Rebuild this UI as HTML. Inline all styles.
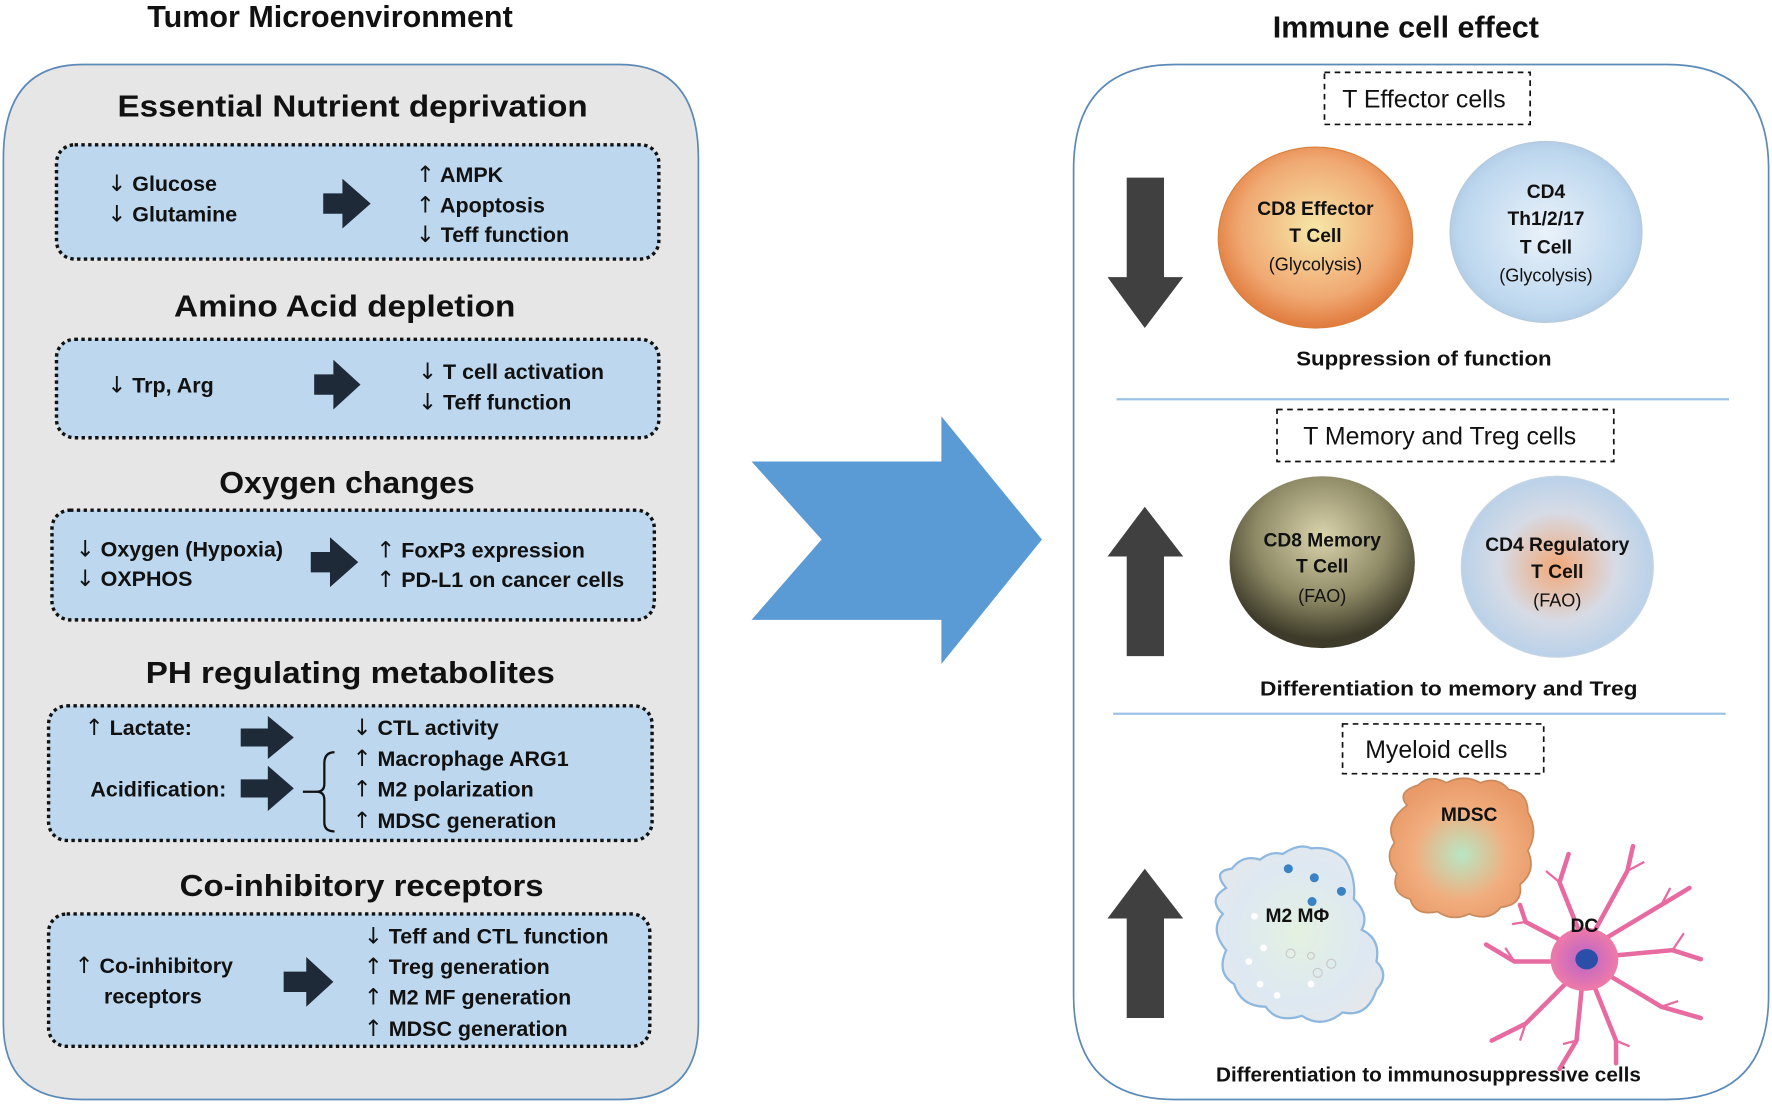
<!DOCTYPE html>
<html><head><meta charset="utf-8"><style>
html,body{margin:0;padding:0;background:#fff;}
svg{display:block;}
text{font-family:"Liberation Sans",sans-serif;fill:#111;}
.h{font-size:27px;font-weight:bold;text-anchor:middle;}
.t{font-size:19px;font-weight:bold;}
.a{font-family:"DejaVu Sans",sans-serif;font-weight:normal;font-size:20px;}
.c{font-size:17px;font-weight:bold;text-anchor:middle;}
.n{font-size:16px;text-anchor:middle;}
.d{font-size:22px;text-anchor:middle;}
.s{font-size:18px;font-weight:bold;text-anchor:middle;}
</style></head><body>
<svg width="1772" height="1104" viewBox="0 0 1568 976" preserveAspectRatio="none" xmlns="http://www.w3.org/2000/svg">
<defs>
<radialGradient id="g1" cx="50%" cy="45%" r="55%"><stop offset="0" stop-color="#f6e7a8"/><stop offset="0.7" stop-color="#f0a872"/><stop offset="1" stop-color="#e07a3c"/></radialGradient>
<radialGradient id="g2" cx="50%" cy="50%" r="55%"><stop offset="0" stop-color="#eaf2fa"/><stop offset="0.8" stop-color="#bdd7ee"/><stop offset="1" stop-color="#a9c6e0"/></radialGradient>
<radialGradient id="g3" cx="50%" cy="35%" r="60%"><stop offset="0" stop-color="#d9d4ac"/><stop offset="0.6" stop-color="#8e8a66"/><stop offset="1" stop-color="#3e3b2a"/></radialGradient>
<radialGradient id="g4" cx="50%" cy="50%" r="55%"><stop offset="0" stop-color="#f2a878"/><stop offset="0.55" stop-color="#d6dbe6"/><stop offset="1" stop-color="#b3cfe9"/></radialGradient>
<radialGradient id="g5" cx="50%" cy="55%" r="55%"><stop offset="0" stop-color="#b8e6c3"/><stop offset="0.6" stop-color="#f1ad7e"/><stop offset="1" stop-color="#e99a68"/></radialGradient>
<radialGradient id="g6" cx="50%" cy="50%" r="55%"><stop offset="0" stop-color="#e4f1e0"/><stop offset="0.7" stop-color="#dde8f2"/><stop offset="1" stop-color="#e4e8ec"/></radialGradient>
<radialGradient id="g7" cx="50%" cy="50%" r="50%"><stop offset="0" stop-color="#b864c8"/><stop offset="1" stop-color="#ef7aa8"/></radialGradient>
</defs>

<text class="h" x="292" y="24">Tumor Microenvironment</text>
<text class="h" x="1244" y="33">Immune cell effect</text>

<path d="M73,57 H548 Q618,57 618,140 V905 Q618,972 548,972 H73 Q3,972 3,905 V140 Q3,57 73,57 Z" fill="#e6e6e6" stroke="#5b8ab8" stroke-width="1.5"/>

<g stroke="#111" stroke-width="3" stroke-dasharray="3 3" fill="#bdd7ee">
<rect x="50" y="128" width="533" height="101" rx="16"/>
<rect x="50" y="300" width="533" height="87" rx="16"/>
<rect x="46" y="451" width="533" height="97" rx="16"/>
<rect x="43" y="624" width="534" height="119" rx="16"/>
<rect x="43" y="808" width="532" height="117" rx="16"/>
</g>

<text class="h" x="312" y="103" textLength="416" lengthAdjust="spacingAndGlyphs">Essential Nutrient deprivation</text>
<text class="h" x="305" y="280" textLength="302" lengthAdjust="spacingAndGlyphs">Amino Acid depletion</text>
<text class="h" x="307" y="436" textLength="226" lengthAdjust="spacingAndGlyphs">Oxygen changes</text>
<text class="h" x="310" y="604" textLength="362" lengthAdjust="spacingAndGlyphs">PH regulating metabolites</text>
<text class="h" x="320" y="792" textLength="322" lengthAdjust="spacingAndGlyphs">Co-inhibitory receptors</text>

<g fill="#1f2a38">
<path d="M286,171 h17 v-13 l25,22 l-25,22 v-13 h-17z"/>
<path d="M278,331 h17 v-13 l24,22 l-24,22 v-13 h-17z"/>
<path d="M275,488 h17 v-13 l25,22 l-25,22 v-13 h-17z"/>
<path d="M213,644 h24 v-11 l23,19 l-23,19 v-11 h-24z"/>
<path d="M213,689 h24 v-12 l23,20 l-23,20 v-12 h-24z"/>
<path d="M251,859 h20 v-13 l24,22 l-24,22 v-13 h-20z"/>
</g>
<path d="M296,665 Q287,665 287,675 V693 Q287,700 280,700 Q287,700 287,707 V727 Q287,735 296,735 M268,700 H280" fill="none" stroke="#111" stroke-width="2"/>

<text class="t" x="95" y="169"><tspan class="a">↓</tspan> Glucose</text>
<text class="t" x="95" y="196"><tspan class="a">↓</tspan> Glutamine</text>
<text class="t" x="368" y="161"><tspan class="a">↑</tspan> AMPK</text>
<text class="t" x="368" y="188"><tspan class="a">↑</tspan> Apoptosis</text>
<text class="t" x="368" y="214"><tspan class="a">↓</tspan> Teff function</text>
<text class="t" x="95" y="347"><tspan class="a">↓</tspan> Trp, Arg</text>
<text class="t" x="370" y="335"><tspan class="a">↓</tspan> T cell activation</text>
<text class="t" x="370" y="362"><tspan class="a">↓</tspan> Teff function</text>
<text class="t" x="67" y="492"><tspan class="a">↓</tspan> Oxygen (Hypoxia)</text>
<text class="t" x="67" y="518"><tspan class="a">↓</tspan> OXPHOS</text>
<text class="t" x="333" y="493"><tspan class="a">↑</tspan> FoxP3 expression</text>
<text class="t" x="333" y="519"><tspan class="a">↑</tspan> PD-L1 on cancer cells</text>
<text class="t" x="75" y="650"><tspan class="a">↑</tspan> Lactate:</text>
<text class="t" x="80" y="704">Acidification:</text>
<text class="t" x="312" y="650"><tspan class="a">↓</tspan> CTL activity</text>
<text class="t" x="312" y="677"><tspan class="a">↑</tspan> Macrophage ARG1</text>
<text class="t" x="312" y="704"><tspan class="a">↑</tspan> M2 polarization</text>
<text class="t" x="312" y="732"><tspan class="a">↑</tspan> MDSC generation</text>
<text class="t" x="66" y="860"><tspan class="a">↑</tspan> Co-inhibitory</text>
<text class="t" x="92" y="887">receptors</text>
<text class="t" x="322" y="834"><tspan class="a">↓</tspan> Teff and CTL function</text>
<text class="t" x="322" y="861"><tspan class="a">↑</tspan> Treg generation</text>
<text class="t" x="322" y="888"><tspan class="a">↑</tspan> M2 MF generation</text>
<text class="t" x="322" y="916"><tspan class="a">↑</tspan> MDSC generation</text>

<path d="M665,408 H833 V368 L922,477 L833,587 V548 H665 L727,477 Z" fill="#5b9bd5"/>

<path d="M1040,57 H1475 Q1565,57 1565,150 V880 Q1565,972 1475,972 H1040 Q950,972 950,880 V150 Q950,57 1040,57 Z" fill="#fff" stroke="#5b8ab8" stroke-width="1.5"/>

<g fill="none" stroke="#111" stroke-width="1.5" stroke-dasharray="5 4">
<rect x="1172" y="64" width="182" height="46"/>
<rect x="1130" y="362" width="298" height="46"/>
<rect x="1188" y="640" width="178" height="44"/>
</g>
<text class="d" x="1260" y="95">T Effector cells</text>
<text class="d" x="1274" y="393">T Memory and Treg cells</text>
<text class="d" x="1271" y="670">Myeloid cells</text>

<g fill="#404040">
<path d="M997,157 H1030 V245 H1047 L1013,290 L980,245 H997 Z"/>
<path d="M997,580 H1030 V492 H1047 L1013,448 L980,492 H997 Z"/>
<path d="M997,900 H1030 V812 H1047 L1013,768 L980,812 H997 Z"/>
</g>

<line x1="988" y1="353" x2="1530" y2="353" stroke="#9dc3e6" stroke-width="2"/>
<line x1="985" y1="631" x2="1527" y2="631" stroke="#9dc3e6" stroke-width="2"/>

<ellipse cx="1164" cy="210" rx="86" ry="80" fill="url(#g1)" stroke="#d9803e"/>
<ellipse cx="1368" cy="205" rx="85" ry="80" fill="url(#g2)" stroke="#b8c9da"/>
<ellipse cx="1170" cy="497" rx="82" ry="76" fill="url(#g3)"/>
<ellipse cx="1378" cy="501" rx="85" ry="80" fill="url(#g4)" stroke="#c7d5e3"/>

<text class="c" x="1164" y="190">CD8 Effector</text>
<text class="c" x="1164" y="214">T Cell</text>
<text class="n" x="1164" y="239">(Glycolysis)</text>
<text class="c" x="1368" y="175">CD4</text>
<text class="c" x="1368" y="199">Th1/2/17</text>
<text class="c" x="1368" y="224">T Cell</text>
<text class="n" x="1368" y="249">(Glycolysis)</text>
<text class="c" x="1170" y="483">CD8 Memory</text>
<text class="c" x="1170" y="506">T Cell</text>
<text class="n" x="1170" y="532">(FAO)</text>
<text class="c" x="1378" y="487">CD4 Regulatory</text>
<text class="c" x="1378" y="511">T Cell</text>
<text class="n" x="1378" y="536">(FAO)</text>

<text class="s" x="1260" y="323" textLength="226" lengthAdjust="spacingAndGlyphs">Suppression of function</text>
<text class="s" x="1282" y="615" textLength="334" lengthAdjust="spacingAndGlyphs">Differentiation to memory and Treg</text>
<text class="s" x="1264" y="956" textLength="376" lengthAdjust="spacingAndGlyphs">Differentiation to immunosuppressive cells</text>

<path d="M1245,712 Q1235,700 1255,694 Q1265,684 1280,692 Q1295,684 1310,692 Q1325,686 1335,698 Q1352,700 1352,718 Q1362,735 1352,752 Q1360,770 1345,782 Q1348,800 1328,802 Q1318,815 1300,808 Q1285,815 1272,806 Q1252,810 1248,795 Q1230,790 1236,772 Q1224,758 1234,745 Q1224,728 1245,712 Z" fill="url(#g5)" stroke="#c98a5c" stroke-width="1.5"/>
<text class="c" x="1300" y="726">MDSC</text>

<path d="M1085,785 Q1072,770 1090,768 Q1100,755 1115,760 Q1125,752 1135,755 Q1150,745 1160,750 Q1178,748 1190,760 Q1200,775 1198,795 Q1212,808 1205,822 Q1222,830 1218,850 Q1230,862 1218,875 Q1210,900 1188,895 Q1170,910 1152,898 Q1130,905 1120,890 Q1098,890 1092,870 Q1076,860 1085,840 Q1070,822 1082,808 Q1068,795 1085,785 Z" fill="url(#g6)" stroke="#8fb8e0" stroke-width="2"/>
<g fill="#3b82c4"><circle cx="1140" cy="768" r="4"/><circle cx="1163" cy="776" r="4"/><circle cx="1187" cy="788" r="4"/><circle cx="1161" cy="797" r="4"/></g>
<g fill="#fff"><circle cx="1110" cy="810" r="3"/><circle cx="1118" cy="838" r="3"/><circle cx="1105" cy="850" r="3"/><circle cx="1115" cy="870" r="3"/><circle cx="1130" cy="880" r="3"/><circle cx="1160" cy="870" r="3"/></g>
<g fill="none" stroke="#c8c8c8"><circle cx="1142" cy="843" r="4"/><circle cx="1160" cy="845" r="3"/><circle cx="1166" cy="860" r="4"/><circle cx="1178" cy="852" r="4"/></g>
<text class="c" x="1148" y="815">M2 MΦ</text>

<g stroke="#e76aa0" stroke-width="4" stroke-linecap="round" fill="none">
<path d="M1400,830 L1380,780 L1388,755"/><path d="M1410,825 L1440,770 L1445,748"/><path d="M1420,830 L1470,800 L1495,785"/>
<path d="M1425,845 L1480,840 L1505,848"/><path d="M1420,860 L1470,890 L1505,900"/><path d="M1410,870 L1430,920 L1430,940"/>
<path d="M1400,870 L1395,920 L1380,945"/><path d="M1390,865 L1350,905 L1320,920"/><path d="M1385,850 L1340,850 L1315,835"/>
<path d="M1388,835 L1350,815 L1345,800"/>
</g>
<g stroke="#e76aa0" stroke-width="2" fill="none">
<path d="M1380,780 l-12,-10 M1440,770 l15,-8 M1470,800 l8,-15 M1480,840 l10,-15 M1470,890 l15,-5 M1430,920 l12,5 M1395,920 l-12,3 M1350,905 l-5,15 M1340,850 l-8,-12 M1350,815 l-12,2"/>
</g>
<ellipse cx="1402" cy="848" rx="30" ry="28" fill="url(#g7)"/>
<ellipse cx="1404" cy="848" rx="10" ry="9" fill="#2b4fa8"/>
<text class="c" x="1402" y="824">DC</text>
</svg>
</body></html>
